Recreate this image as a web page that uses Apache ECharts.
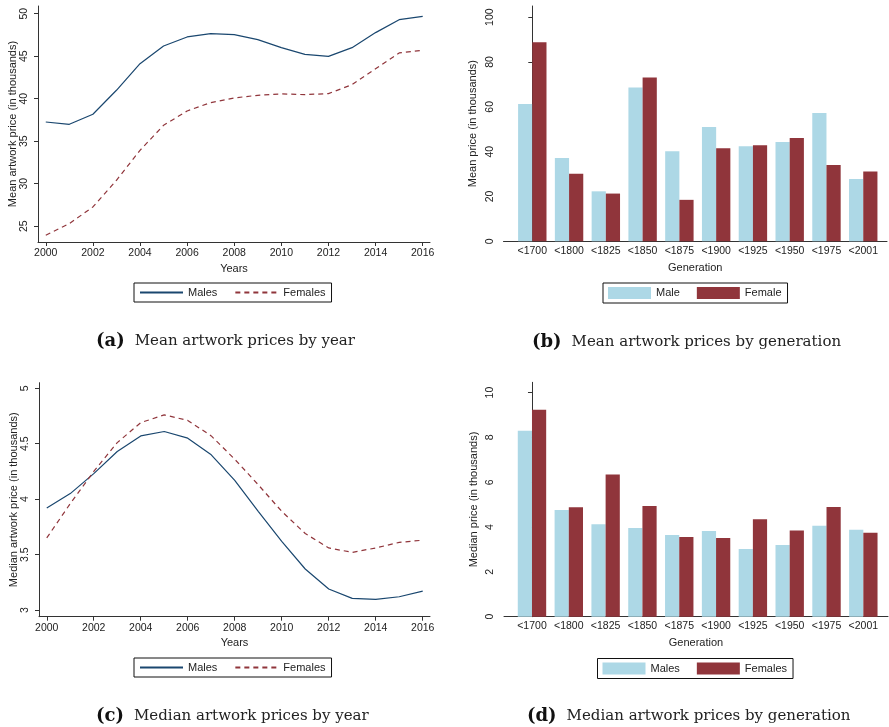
<!DOCTYPE html>
<html><head><meta charset="utf-8">
<script src="https://cdn.jsdelivr.net/npm/echarts@6/dist/echarts.min.js"></script>
<style>html,body{margin:0;padding:0;background:#fff}#c{width:889px;height:727px}</style>
</head><body><div id="c"></div>
<script>
// ---- data ----
const years = [2000,2001,2002,2003,2004,2005,2006,2007,2008,2009,2010,2011,2012,2013,2014,2015,2016];
const meanMale   = [37.26,36.99,38.17,40.99,44.12,46.2,47.26,47.65,47.53,46.94,46.0,45.22,44.98,46.0,47.77,49.29,49.69];
const meanFemale = [23.94,25.31,27.27,30.41,33.93,36.87,38.56,39.54,40.09,40.4,40.56,40.48,40.6,41.65,43.53,45.38,45.69];
const medianMale   = [3.92,4.05,4.23,4.43,4.57,4.61,4.55,4.40,4.17,3.89,3.62,3.37,3.19,3.105,3.096,3.12,3.17];
const medianFemale = [3.65,3.96,4.25,4.51,4.69,4.76,4.71,4.57,4.36,4.13,3.89,3.69,3.56,3.52,3.56,3.61,3.63];
const generations = ['<1700','<1800','<1825','<1850','<1875','<1900','<1925','<1950','<1975','<2001'];
const genMeanMale   = [61.3,37.2,22.3,68.6,40.2,51.0,42.4,44.3,57.3,27.8];
const genMeanFemale = [88.8,30.1,21.3,73.1,18.5,41.5,42.9,46.1,34.1,31.1];
const genMedianMale   = [8.30,4.76,4.12,3.96,3.65,3.82,3.02,3.20,4.06,3.88];
const genMedianFemale = [9.23,4.88,6.35,4.94,3.56,3.51,4.35,3.85,4.90,3.75];
const yearTicks = [2000,2002,2004,2006,2008,2010,2012,2014,2016];
const meanTicks = [25,30,35,40,45,50];
const medianTicks = [3,3.5,4,4.5,5];
const genMeanTicks = [0,20,40,60,80,100];
const genMedianTicks = [0,2,4,6,8,10];
const genTicks = [0,1,2,3,4,5,6,7,8,9];

// ---- styles ----
const FONT = 'Liberation Sans';
const NAVY = '#1a476f', MAROON = '#90353b', LIGHTBLUE = '#add8e6';
const AXC = '#333', TXT = '#222';

function lineXAxis(gi){
  return {type:'value', gridIndex:gi, min:1999.67, max:2016.31, name:'Years', nameLocation:'middle', nameGap:21,
    nameTextStyle:{fontFamily:FONT,fontSize:11,color:TXT},
    axisLine:{lineStyle:{color:AXC,width:1}},
    axisTick:{show:true,length:4,customValues:yearTicks,lineStyle:{color:AXC}},
    axisLabel:{customValues:yearTicks,margin:6,fontFamily:FONT,fontSize:10.5,color:TXT,formatter:v=>String(v)},
    splitLine:{show:false}};
}
function barXAxis(gi,min,max){
  return {type:'value', gridIndex:gi, min:min, max:max, name:'Generation', nameLocation:'middle', nameGap:21,
    nameTextStyle:{fontFamily:FONT,fontSize:11,color:TXT},
    axisLine:{lineStyle:{color:AXC,width:1}},
    axisTick:{show:false},
    axisLabel:{customValues:genTicks,margin:4,fontFamily:FONT,fontSize:10.5,color:TXT,
      formatter:v=>generations[Math.round(v)]},
    splitLine:{show:false}};
}
function yAx(gi,min,max,ticks,name,gap){
  return {type:'value', gridIndex:gi, min:min, max:max, name:name, nameLocation:'middle', nameGap:gap,
    nameTextStyle:{fontFamily:FONT,fontSize:11,color:TXT},
    axisLine:{show:true,lineStyle:{color:AXC,width:1}},
    axisTick:{show:true,length:4,customValues:ticks,lineStyle:{color:AXC}},
    axisLabel:{customValues:ticks,rotate:90,margin:8,fontFamily:FONT,fontSize:10.5,color:TXT},
    splitLine:{show:false}};
}
function legendBox(left,top,names,isBar){
  const l = {left:left, top:top, orient:'horizontal', data:names, borderColor:'#111', borderWidth:1,
    padding:[4,6,4,5], itemWidth:43, itemHeight:12, itemGap:17,
    textStyle:{fontFamily:FONT,fontSize:11,color:TXT},
    formatter:n=>n.replace(/ \(.\)$/,''), selectedMode:false};
  if(isBar) l.icon = 'rect';
  else l.itemStyle = {opacity:0, borderWidth:0};
  return l;
}
function caption(left,top,tag,text){
  return {left:left, top:top, padding:0, text:'{b|'+tag+'}  {t|'+text+'}',
    textStyle:{fontWeight:'normal',rich:{
      b:{fontFamily:'DejaVu Serif',fontWeight:'bold',fontSize:18,color:'#111',lineHeight:22},
      t:{fontFamily:'DejaVu Serif',fontWeight:'normal',fontSize:15,color:'#222',lineHeight:22}}}};
}

const chart = echarts.init(document.getElementById('c'), null, {renderer:'canvas'});
chart.setOption({
  animation:false,
  backgroundColor:'#fff',
  title:[
    caption(96,330,'(a)','Mean artwork prices by year'),
    caption(532,331,'(b)','Mean artwork prices by generation'),
    caption(96,705,'(c)','Median artwork prices by year'),
    caption(527,705,'(d)','Median artwork prices by generation')
  ],
  grid:[
    {left:38, top:6, right:459, bottom:485},
    {left:503.5, top:6, right:2, bottom:485.7},
    {left:39, top:382.7, right:459, bottom:110.3},
    {left:504, top:382.3, right:1, bottom:110.3}
  ],
  xAxis:[ lineXAxis(0), barXAxis(1,-0.783,9.646), lineXAxis(2), barXAxis(3,-0.76,9.67) ],
  yAxis:[
    yAx(0,23.15,50.9,meanTicks,'Mean artwork price (in thousands)',19),
    yAx(1,0,105,genMeanTicks,'Mean price (in thousands)',25),
    yAx(2,2.94,5.05,medianTicks,'Median artwork price (in thousands)',19),
    yAx(3,0,10.46,genMedianTicks,'Median price (in thousands)',25)
  ],
  legend:[
    legendBox(134,283,['Males (a)','Females (a)'],false),
    legendBox(603,283,['Male','Female'],true),
    legendBox(134,658,['Males (c)','Females (c)'],false),
    legendBox(597.5,658.5,['Males (d)','Females (d)'],true)
  ],
  series:[
    {type:'line',name:'Males (a)',xAxisIndex:0,yAxisIndex:0,symbol:'none',
      lineStyle:{color:NAVY,width:1.2},itemStyle:{color:NAVY},data:years.map((y,i)=>[y,meanMale[i]])},
    {type:'line',name:'Females (a)',xAxisIndex:0,yAxisIndex:0,symbol:'none',
      lineStyle:{color:MAROON,width:1.2,type:[5,4]},itemStyle:{color:MAROON},data:years.map((y,i)=>[y,meanFemale[i]])},
    {type:'bar',name:'Male',xAxisIndex:1,yAxisIndex:1,barWidth:14.2,barGap:'0%',
      itemStyle:{color:LIGHTBLUE},data:generations.map((g,i)=>[i,genMeanMale[i]])},
    {type:'bar',name:'Female',xAxisIndex:1,yAxisIndex:1,barWidth:14.2,barGap:'0%',
      itemStyle:{color:MAROON},data:generations.map((g,i)=>[i,genMeanFemale[i]])},
    {type:'line',name:'Males (c)',xAxisIndex:2,yAxisIndex:2,symbol:'none',
      lineStyle:{color:NAVY,width:1.2},itemStyle:{color:NAVY},data:years.map((y,i)=>[y,medianMale[i]])},
    {type:'line',name:'Females (c)',xAxisIndex:2,yAxisIndex:2,symbol:'none',
      lineStyle:{color:MAROON,width:1.2,type:[5,4]},itemStyle:{color:MAROON},data:years.map((y,i)=>[y,medianFemale[i]])},
    {type:'bar',name:'Males (d)',xAxisIndex:3,yAxisIndex:3,barWidth:14.2,barGap:'0%',
      itemStyle:{color:LIGHTBLUE},data:generations.map((g,i)=>[i,genMedianMale[i]])},
    {type:'bar',name:'Females (d)',xAxisIndex:3,yAxisIndex:3,barWidth:14.2,barGap:'0%',
      itemStyle:{color:MAROON},data:generations.map((g,i)=>[i,genMedianFemale[i]])}
  ]
});
</script></body></html>
